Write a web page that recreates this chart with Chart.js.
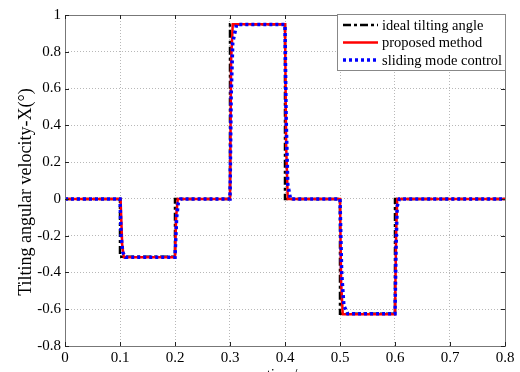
<!DOCTYPE html>
<html>
<head>
<meta charset="utf-8">
<script src="https://cdn.jsdelivr.net/npm/chart.js@4"></script>
<style>
  html, body { margin: 0; padding: 0; background: #fff; }
  #wrap { width: 520px; height: 372px; }
</style>
</head>
<body>
<div id="wrap"><canvas id="chart"></canvas></div>
<script>
// series (time in s, angle in deg)
const idealT = [0, 0.1, 0.1, 0.2, 0.2, 0.3, 0.3, 0.4, 0.4, 0.5, 0.5, 0.6, 0.6, 0.8];
const idealY = [0, 0, -0.315, -0.315, 0, 0, 0.95, 0.95, 0, 0, -0.625, -0.625, 0, 0];

const proposedT = [0, 0.101, 0.104, 0.107, 0.2, 0.202, 0.205, 0.3, 0.302, 0.305, 0.4, 0.402, 0.405, 0.5, 0.502, 0.505, 0.6, 0.602, 0.604, 0.8];
const proposedY = [0, 0, -0.25, -0.318, -0.318, -0.1, 0, 0, 0.75, 0.95, 0.95, 0.3, 0, 0, -0.45, -0.628, -0.628, -0.2, 0, 0];

const slidingT = [0, 0.1, 0.102, 0.105, 0.11, 0.2, 0.203, 0.206, 0.21, 0.3, 0.302, 0.305, 0.312, 0.4, 0.402, 0.405, 0.41, 0.5, 0.503, 0.507, 0.514, 0.6, 0.602, 0.604, 0.608, 0.8];
const slidingY = [0, 0, -0.2, -0.29, -0.318, -0.318, -0.1, -0.02, 0, 0, 0.55, 0.85, 0.948, 0.948, 0.45, 0.08, 0, 0, -0.4, -0.58, -0.625, -0.625, -0.25, -0.04, 0, 0];

const xTicks = [0, 0.1, 0.2, 0.3, 0.4, 0.5, 0.6, 0.7, 0.8];
const yTicks = [-0.8, -0.6, -0.4, -0.2, 0, 0.2, 0.4, 0.6, 0.8, 1];

const seriesNames = ["ideal tilting angle", "proposed method", "sliding mode control"];
const yTitle = "Tilting angular velocity-X(°)";

const toPoints = (t, y) => t.map((v, i) => ({ x: v, y: y[i] }));
const FONT = "'Liberation Serif', 'Times New Roman', serif";

// MATLAB-like box, inward tick marks, y title and legend inside the axes
const boxPlugin = {
  id: "boxPlugin",
  afterDraw(chart) {
    const { ctx, chartArea: a, scales } = chart;
    ctx.save();
    ctx.strokeStyle = "#777";
    ctx.lineWidth = 1;
    ctx.setLineDash([]);
    ctx.strokeRect(a.left + 0.5, a.top + 0.5, a.right - a.left, a.bottom - a.top);
    ctx.strokeStyle = "#222";
    ctx.beginPath();
    xTicks.forEach((v) => {
      const px = Math.round(scales.x.getPixelForValue(v)) + 0.5;
      ctx.moveTo(px, a.bottom); ctx.lineTo(px, a.bottom - 4);
      ctx.moveTo(px, a.top); ctx.lineTo(px, a.top + 4);
    });
    yTicks.forEach((v) => {
      const py = Math.round(scales.y.getPixelForValue(v)) + 0.5;
      ctx.moveTo(a.left, py); ctx.lineTo(a.left + 4, py);
      ctx.moveTo(a.right, py); ctx.lineTo(a.right - 4, py);
    });
    ctx.stroke();

    // y axis title, a little below the axis centre as in the original
    ctx.save();
    ctx.translate(26, 192);
    ctx.rotate(-Math.PI / 2);
    ctx.font = "18px " + FONT;
    ctx.fillStyle = "#000";
    ctx.textAlign = "center";
    ctx.textBaseline = "middle";
    ctx.fillText(yTitle, 0, 0);
    ctx.restore();

    // legend, drawn black -> red -> blue like the datasets
    const lx = 337, ly = 14, lw = 168, lh = 56;
    ctx.fillStyle = "#fff";
    ctx.fillRect(lx, ly, lw, lh);
    ctx.strokeStyle = "#888";
    ctx.strokeRect(lx + 0.5, ly + 0.5, lw, lh);
    ctx.font = "14.5px " + FONT;
    ctx.textBaseline = "middle";
    chart.data.datasets.forEach((ds, i) => {
      const yy = ly + 11 + i * 17.5;
      ctx.strokeStyle = ds.borderColor;
      ctx.lineWidth = ds.borderWidth;
      ctx.setLineDash(ds.borderDash || []);
      ctx.beginPath();
      ctx.moveTo(343, yy); ctx.lineTo(378, yy);
      ctx.stroke();
      ctx.setLineDash([]);
      ctx.fillStyle = "#000";
      ctx.fillText(ds.label, 382, yy + 1);
    });
    ctx.restore();
  },
};

new Chart(document.getElementById("chart"), {
  type: "line",
  data: {
    datasets: [
      {
        label: seriesNames[0],
        data: toPoints(idealT, idealY),
        borderColor: "#000",
        borderWidth: 2.5,
        borderDash: [8, 3, 3, 3],
        pointRadius: 0,
        tension: 0,
        order: 3,
      },
      {
        label: seriesNames[1],
        data: toPoints(proposedT, proposedY),
        borderColor: "#ff0000",
        borderWidth: 2.5,
        pointRadius: 0,
        tension: 0,
        order: 2,
      },
      {
        label: seriesNames[2],
        data: toPoints(slidingT, slidingY),
        borderColor: "#0000ff",
        borderWidth: 3.5,
        borderDash: [3, 3],
        pointRadius: 0,
        tension: 0,
        order: 1,
      },
    ],
  },
  options: {
    responsive: true,
    maintainAspectRatio: false,
    animation: false,
    layout: { padding: { top: 15, right: 15, left: 0, bottom: 0 } },
    plugins: { legend: { display: false }, tooltip: { enabled: false } },
    scales: {
      x: {
        type: "linear",
        min: 0,
        max: 0.8,
        afterBuildTicks: (s) => { s.ticks = xTicks.map((v) => ({ value: v })); },
        afterFit: (s) => { s.height = 26; },
        ticks: { color: "#000", font: { family: FONT, size: 15 }, padding: 3, maxRotation: 0, callback: (v) => String(v) },
        grid: { color: "#b8b8b8", drawTicks: false },
        border: { display: false, dash: [1, 2] },
        title: { display: true, text: "time/s", color: "#000", font: { family: FONT, size: 15 }, padding: { top: 0, bottom: -12 } },
      },
      y: {
        min: -0.8,
        max: 1,
        afterBuildTicks: (s) => { s.ticks = yTicks.map((v) => ({ value: v })); },
        afterFit: (s) => { s.width = 65; },
        ticks: { color: "#000", font: { family: FONT, size: 15 }, padding: 4, callback: (v) => String(v) },
        grid: { color: "#b8b8b8", drawTicks: false },
        border: { display: false, dash: [1, 2] },
      },
    },
  },
  plugins: [boxPlugin],
});
</script>
</body>
</html>
